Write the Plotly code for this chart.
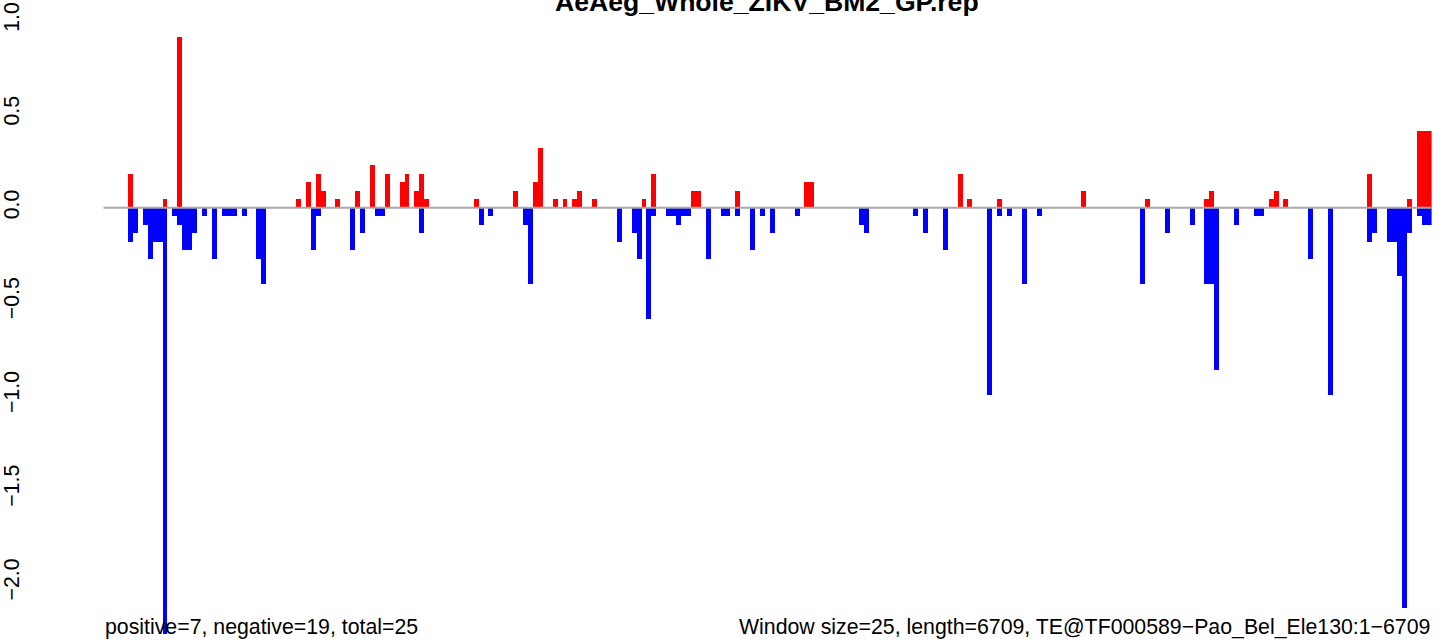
import plotly.graph_objects as go

# ---- data (window index -> value) ----
window_size = 25
n_windows = 269

pos_window = [5, 12, 15, 39, 41, 43, 44, 47, 51, 54, 57, 60, 61, 63, 64, 65, 75, 83, 87, 88,
              91, 93, 95, 96, 99, 109, 111, 119, 120, 128, 142, 143, 173, 175, 181, 198, 211,
              223, 224, 236, 237, 239, 256, 264, 266, 267, 268]
pos_value = [0.182, 0.045, 0.909, 0.045, 0.136, 0.182, 0.091, 0.045, 0.091, 0.227, 0.182, 0.136,
             0.182, 0.091, 0.182, 0.045, 0.045, 0.091, 0.136, 0.318,
             0.045, 0.045, 0.045, 0.091, 0.045, 0.045, 0.182, 0.091, 0.091, 0.091, 0.136, 0.136,
             0.182, 0.045, 0.045, 0.091, 0.045,
             0.045, 0.091, 0.045, 0.091, 0.045, 0.182, 0.045, 0.409, 0.409, 0.409]

neg_window = [5, 6, 8, 9, 10, 11, 12, 14, 15, 16, 17, 18, 20, 22, 24, 25, 26, 28, 31, 32,
              42, 43, 50, 52, 55, 56, 64, 76, 78, 85, 86, 104, 107, 108, 110, 111,
              114, 115, 116, 117, 118, 122, 125, 126, 128, 131, 133, 135, 140, 153, 154,
              164, 166, 170, 179, 181, 183, 186, 189, 210, 215, 220, 223, 224, 225, 229,
              233, 234, 244, 248, 256, 257, 260, 261, 262, 263, 264, 266, 267, 268]
neg_value = [-0.182, -0.136, -0.091, -0.273, -0.182, -0.182, -2.273, -0.045, -0.091, -0.227,
             -0.227, -0.136, -0.045, -0.273, -0.045, -0.045, -0.045, -0.045, -0.273, -0.409,
             -0.227, -0.045, -0.227, -0.136, -0.045, -0.045, -0.136, -0.091, -0.045, -0.091,
             -0.409, -0.182, -0.136, -0.273, -0.591, -0.045,
             -0.045, -0.045, -0.091, -0.045, -0.045, -0.273, -0.045, -0.045, -0.045, -0.227,
             -0.045, -0.136, -0.045, -0.091, -0.136,
             -0.045, -0.136, -0.227, -1.0, -0.045, -0.045, -0.409, -0.045, -0.409, -0.136,
             -0.091, -0.409, -0.409, -0.864, -0.091,
             -0.045, -0.045, -0.273, -1.0, -0.182, -0.136, -0.182, -0.182, -0.364, -2.136,
             -0.136, -0.045, -0.091, -0.091]

y_ticks = [-2.0, -1.5, -1.0, -0.5, 0.0, 0.5, 1.0]
y_ticktext = ["\u22122.0", "\u22121.5", "\u22121.0", "\u22120.5", "0.0", "0.5", "1.0"]

title = "AeAeg_Whole_ZIKV_BM2_GP.rep"
left_note = "positive=7, negative=19, total=25"
right_note = "Window size=25, length=6709, TE@TF000589\u2212Pao_Bel_Ele130:1\u22126709"

FONT = "Liberation Sans, Arial, Helvetica, sans-serif"
W, H = 1449, 643

fig = go.Figure()
fig.add_trace(go.Bar(
    x=[w * window_size + window_size / 2 for w in pos_window], y=pos_value,
    width=window_size, marker=dict(color="#FF0000", line=dict(width=0)),
    showlegend=False, hoverinfo="skip"))
fig.add_trace(go.Bar(
    x=[w * window_size + window_size / 2 for w in neg_window], y=neg_value,
    width=window_size, marker=dict(color="#0000FF", line=dict(width=0)),
    showlegend=False, hoverinfo="skip"))

# zero line
fig.add_shape(type="line", xref="x", yref="y", x0=0, x1=n_windows * window_size, y0=0, y1=0,
              line=dict(color="#A8A8A8", width=2), layer="above")

x_left, x_right = 103.3, 1431.6
y_zero_px, px_per_unit = 207.7, 187.5
y_top = y_zero_px / px_per_unit
y_bot = -(H - y_zero_px) / px_per_unit

fig.update_layout(
    width=W, height=H,
    margin=dict(l=0, r=0, t=0, b=0, autoexpand=False),
    paper_bgcolor="white", plot_bgcolor="white",
    barmode="overlay", bargap=0,
    font=dict(family=FONT, size=21, color="black"),
    xaxis=dict(domain=[x_left / W, x_right / W], range=[0, n_windows * window_size],
               visible=False, fixedrange=True, automargin=False),
    yaxis=dict(range=[y_bot, y_top], anchor="free", position=23 / W, automargin=False,
               tickvals=y_ticks, ticktext=y_ticktext, tickangle=-90, fixedrange=True,
               showgrid=False, zeroline=False, showline=False, ticks="",
               tickfont=dict(family=FONT, size=21.3, color="black")),
)

fig.add_annotation(text="<b>" + title + "</b>", xref="x domain", yref="paper",
                   x=0.5, y=1 - 2 / H, xanchor="center", yanchor="middle",
                   showarrow=False, font=dict(family=FONT, size=26.6, color="black"))
fig.add_annotation(text=left_note, xref="x domain", yref="paper", x=0, y=(H - 627) / H,
                   xanchor="left", yanchor="middle", showarrow=False,
                   font=dict(family=FONT, size=21.3, color="black"))
fig.add_annotation(text=right_note, xref="x domain", yref="paper", x=1, y=(H - 627) / H,
                   xanchor="right", yanchor="middle", showarrow=False,
                   font=dict(family=FONT, size=21.3, color="black"))

fig.write_html("out.html", config={"displayModeBar": False, "staticPlot": True},
               post_script="document.body.style.margin='0';document.body.style.overflow='hidden';")
